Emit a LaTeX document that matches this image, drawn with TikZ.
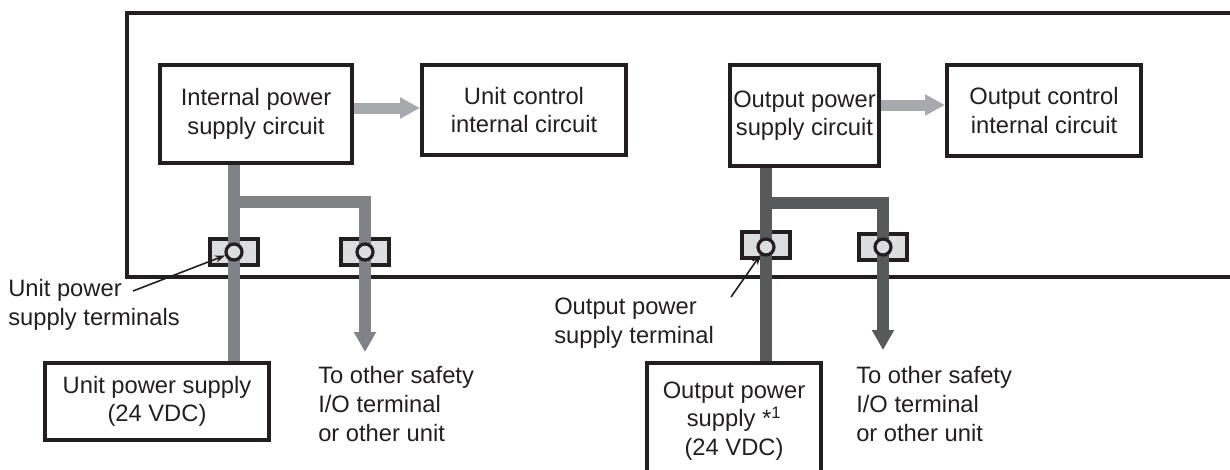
\documentclass[tikz,border=0pt]{standalone}
\usepackage{fontspec}
\setmainfont{Liberation Sans}
\usetikzlibrary{arrows.meta}
\definecolor{ink}{HTML}{231F20}
\definecolor{feedgray}{HTML}{A7A9AC}
\definecolor{unitbus}{HTML}{808285}
\definecolor{outbus}{HTML}{58595B}
\definecolor{termfill}{HTML}{DCDDDE}

\begin{document}
\begin{tikzpicture}[x=0.75pt,y=-0.75pt,
  font=\fontsize{17.8}{21.4}\selectfont,text=ink,
  blockbox/.style={draw=ink,line width=3pt,inner sep=0pt,align=center},
  termbox/.style={draw=ink,fill=termfill,line width=2.7pt,minimum width=36pt,minimum height=19.5pt,inner sep=0pt},
  termring/.style={circle,draw=ink,fill=termfill,line width=2.4pt,minimum size=12pt,inner sep=0pt},
  feed/.style={draw=feedgray,line width=8.25pt,-{Triangle[length=15pt,width=15pt]}},
  bus/.style={line width=9pt},
  busarrow/.style={bus,-{Triangle[length=15pt,width=15.75pt]}},
  pointer/.style={draw=ink,line width=1.2pt,-{Stealth[length=7.5pt,width=5.5pt]}},
  note/.style={align=left,inner sep=0pt,anchor=west}]
\useasboundingbox (0,0) rectangle (1230,469);
\clip (0,0) rectangle (1230,469);
\draw[draw=ink,line width=3pt] (1230,13) -| (127,277) -- (1230,277);

\node[blockbox,minimum width=144pt,minimum height=73.5pt] (ipsc) at (256,114) {Internal power\\supply circuit};
\node[blockbox,minimum width=153pt,minimum height=67.5pt] (ucic) at (524,110) {Unit control\\internal circuit};
\node[blockbox,minimum width=112pt,minimum height=75.75pt] (opsc) at (804.5,115.5) {Output power\\supply circuit};
\node[blockbox,minimum width=145.5pt,minimum height=68.25pt] (ocic) at (1044,110.5) {Output control\\internal circuit};
\node[blockbox,minimum width=168pt,minimum height=57.75pt] (ups) at (157,401.5) {Unit power supply\\(24 VDC)};
\node[blockbox,minimum width=130.5pt,minimum height=87pt] (ops) at (734,421) {Output power\\supply *\textsuperscript{1}\\(24 VDC)};

\node[termbox] (tA) at (234,252) {};
\node[termbox] (tB) at (365,252) {};
\node[termbox] (tC) at (766,245) {};
\node[termbox] (tD) at (883,247) {};

\coordinate (endL) at (365,352);
\coordinate (endR) at (883,350);
\draw[bus,draw=unitbus] (ipsc.south -| tA) -- (ups.north -| tA);
\draw[busarrow,draw=unitbus] (tA |- 0,202) -| (endL);
\draw[bus,draw=outbus] (opsc.south -| tC) -- (ops.north -| tC);
\draw[busarrow,draw=outbus] (tC |- 0,203) -| (endR);

\node[termring] (rA) at (234,252) {};
\node[termring] (rB) at (365,252) {};
\node[termring] (rC) at (766,247) {};
\node[termring] (rD) at (883,247) {};

\draw[feed] (ipsc.east |- 0,108) -- (ucic.west |- 0,108);
\draw[feed] (opsc.east |- 0,105) -- (ocic.west |- 0,105);

\node[note] (lblUT) at (8,305) {Unit power\\supply terminals};
\node[note] (lblTL) at (318,404) {To other safety\\I/O terminal\\or other unit};
\node[note] (lblOT) at (554,323) {Output power\\supply terminal};
\node[note] (lblTR) at (856,404) {To other safety\\I/O terminal\\or other unit};

\coordinate (pUT) at (133,291);
\coordinate (pOT) at (731,297);
\draw[pointer] (pUT) -- (rA);
\draw[pointer] (pOT) -- (rC);
\end{tikzpicture}
\end{document}
